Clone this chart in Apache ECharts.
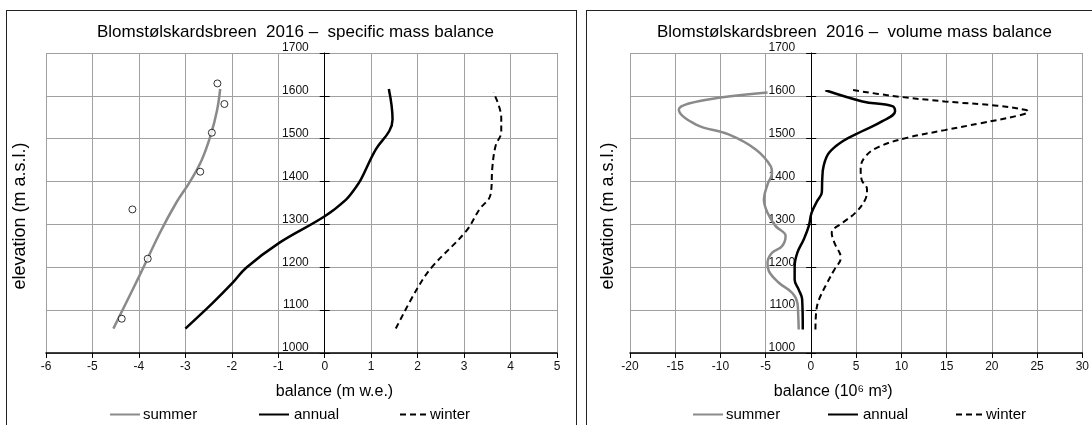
<!DOCTYPE html>
<html>
<head>
<meta charset="utf-8">
<script src="https://cdn.jsdelivr.net/npm/echarts@6/dist/echarts.min.js"></script>
<style>
  html, body { margin: 0; padding: 0; background: #fff; overflow: hidden; }
  .panel { position: absolute; top: 10px; height: 440px; border: 1px solid #222; }
  #chart { position: absolute; left: 0; top: 0; width: 1092px; height: 425px; }
</style>
</head>
<body>
<div class="panel" style="left:6px; width:569px;"></div>
<div class="panel" style="left:586px; width:600px;"></div>
<div id="chart"></div>
<script>
// specific mass balance (m w.e.) against elevation (m a.s.l.)
const specSummerVal = [-4.55, -3.99, -3.55, -3.2, -2.9, -2.65, -2.45, -2.32, -2.25];
const specSummerElev = [1057, 1180, 1280, 1350, 1400, 1450, 1510, 1565, 1616];
const specPointVal = [-4.37, -3.81, -4.14, -2.68, -2.43, -2.16, -2.31];
const specPointElev = [1080, 1220, 1335, 1423, 1514, 1581, 1629];
const specAnnualVal = [-3.0, -2.41, -1.98, -1.69, -0.98, 0, 0.46, 0.64, 0.78, 1.1, 1.39, 1.46, 1.38];
const specAnnualElev = [1057, 1117, 1164, 1199, 1257, 1319, 1358, 1382, 1405, 1475, 1518, 1545, 1616];
const specWinterVal = [1.53, 2.0, 2.32, 3.04, 3.33, 3.57, 3.61, 3.68, 3.8, 3.8, 3.63];
const specWinterElev = [1057, 1152, 1202, 1284, 1335, 1370, 1435, 1484, 1516, 1548, 1608];

// volume mass balance (10^6 m3)
const volSummerVal = [-1.35, -1.4, -1.5, -2.06, -3.55, -4.65, -4.8, -4.3, -3.2, -2.8, -3.9, -4.8, -5.2, -4.8, -4.3, -4.45, -6.1, -9.1, -12.7, -14.6, -13.5, -10, -4.8];
const volSummerElev = [1055, 1086, 1117, 1140, 1164, 1191, 1210, 1234, 1249, 1273, 1296, 1327, 1358, 1393, 1420, 1436, 1475, 1510, 1533, 1568, 1582, 1596, 1608];
const volAnnualVal = [-0.9, -0.97, -1.35, -1.8, -1.8, -1.5, -0.8, -0.24, 0.07, 0.7, 1.2, 1.25, 1.4, 2.0, 3.5, 5.7, 7.9, 9.3, 9.0, 5.7, 1.6];
const volAnnualElev = [1055, 1125, 1148, 1171, 1203, 1234, 1265, 1296, 1327, 1355, 1374, 1405, 1436, 1467, 1494, 1518, 1541, 1564, 1576, 1587, 1613];
const volWinterVal = [0.5, 0.6, 0.9, 1.8, 2.6, 3.3, 2.6, 2.3, 3.5, 4.9, 6.0, 6.2, 5.6, 5.5, 6.0, 7.5, 10.6, 14.8, 18.7, 22.9, 24.0, 23.8, 20.6, 14.8, 9.0, 4.2];
const volWinterElev = [1055, 1100, 1125, 1164, 1195, 1222, 1257, 1280, 1304, 1327, 1358, 1382, 1405, 1430, 1458, 1481, 1502, 1520, 1536, 1554, 1563, 1567, 1577, 1587, 1600, 1615];

const elevTicks = [1000, 1700, 100];
const specTicks = [-6, 5, 1];
const volTicks = [-20, 30, 5];

const FONT = 'Liberation Sans, Arial, sans-serif';
const GRID_COLOR = '#a0a0a0';
const grids = [
  { left: 46, top: 53, width: 511, height: 300 },
  { left: 630, top: 53, width: 453, height: 300 }
];

const pairs = (xs, ys) => xs.map((x, i) => [x, ys[i]]);

// shift of the elevation axis from the grid's left edge to balance = 0
const zeroOffset = (ticks, grid) => -(0 - ticks[0]) / (ticks[1] - ticks[0]) * grid.width;

const xAxisFor = (gridIndex, ticks, name, namePad) => ({
  gridIndex: gridIndex,
  type: 'value',
  min: ticks[0],
  max: ticks[1],
  interval: ticks[2],
  name: name,
  nameLocation: 'middle',
  nameGap: 31,
  nameTextStyle: { fontSize: 16, color: '#000', fontFamily: FONT, padding: namePad },
  axisLine: { show: true, onZero: false, lineStyle: { color: '#000', width: 1.5 } },
  axisTick: { show: true, length: 5, lineStyle: { color: '#000' } },
  axisLabel: { fontSize: 12, color: '#111', margin: 8, fontFamily: FONT },
  splitLine: { show: true, lineStyle: { color: GRID_COLOR, width: 1 } }
});

const yAxisFor = (gridIndex, offset) => ({
  gridIndex: gridIndex,
  type: 'value',
  position: 'left',
  offset: offset,
  min: elevTicks[0],
  max: elevTicks[1],
  interval: elevTicks[2],
  axisLine: { show: true, onZero: false, lineStyle: { color: '#000', width: 1 } },
  axisTick: { show: true, length: 5, lineStyle: { color: '#000' } },
  axisLabel: { fontSize: 12, color: '#111', margin: 16, verticalAlign: 'bottom', lineHeight: 10,
    fontFamily: FONT, formatter: v => String(v) },
  splitLine: { show: true, lineStyle: { color: GRID_COLOR, width: 1 } }
});

// second y axis in each grid only draws the inner half of the crossing ticks
const yTickAxisFor = (gridIndex, offset) => ({
  gridIndex: gridIndex,
  type: 'value',
  position: 'left',
  offset: offset,
  min: elevTicks[0],
  max: elevTicks[1],
  interval: elevTicks[2],
  axisLine: { show: false, onZero: false },
  axisTick: { show: true, inside: true, length: 5, lineStyle: { color: '#000' } },
  axisLabel: { show: false },
  splitLine: { show: false }
});

const lineSeries = (name, xi, yi, data, style) => ({
  name: name,
  type: 'line',
  xAxisIndex: xi,
  yAxisIndex: yi,
  data: data,
  smooth: 0.4,
  symbol: 'none',
  itemStyle: { color: style.color },
  lineStyle: style,
  z: 3
});

const summerStyle = { color: '#8a8a8a', width: 2.5 };
const annualStyle = { color: '#000', width: 2.5 };
const winterStyle = { color: '#000', width: 2, type: [6, 4] };

const legendAt = (name, left, textGap) => ({
  data: [name],
  left: left,
  top: 407,
  padding: 0,
  itemWidth: 30,
  itemHeight: 14,
  itemGap: 0,
  itemStyle: { color: 'transparent', borderColor: 'transparent', borderWidth: 0, opacity: 0 },
  textStyle: { fontSize: 15, color: '#000', fontFamily: FONT, padding: [0, 0, 0, textGap] }
});

const chart = echarts.init(document.getElementById('chart'));

const specOffset = zeroOffset(specTicks, grids[0]);
const volOffset = zeroOffset(volTicks, grids[1]);

const yName = (x) => ({
  type: 'text', x: x, y: 216, rotation: Math.PI / 2,
  style: { text: 'elevation (m a.s.l.)', font: '18px ' + FONT, fill: '#000', textAlign: 'center', textVerticalAlign: 'middle' }
});

const option = {
  animation: false,
  textStyle: { fontFamily: FONT },
  title: [
    { text: 'Blomstølskardsbreen  2016 –  specific mass balance', left: 97, top: 24, padding: 0,
      textStyle: { fontSize: 17, fontWeight: 'normal', color: '#000', fontFamily: FONT } },
    { text: 'Blomstølskardsbreen  2016 –  volume mass balance', left: 657, top: 24, padding: 0,
      textStyle: { fontSize: 17, fontWeight: 'normal', color: '#000', fontFamily: FONT } }
  ],
  legend: [
    legendAt('summer', 109, -2), legendAt('annual', 258, 0), legendAt('winter', 399, -5),
    legendAt('summer', 692, -2), legendAt('annual', 827, 0), legendAt('winter', 955, -5)
  ],
  grid: grids,
  xAxis: [
    xAxisFor(0, specTicks, 'balance (m w.e.)', [0, 0, 0, 66]),
    xAxisFor(1, volTicks, 'balance (10⁶ m³)', [0, 46, 0, 0])
  ],
  yAxis: [
    yAxisFor(0, specOffset), yTickAxisFor(0, specOffset),
    yAxisFor(1, volOffset), yTickAxisFor(1, volOffset)
  ],
  graphic: [yName(20), yName(608)],
  series: [
    lineSeries('summer', 0, 0, pairs(specSummerVal, specSummerElev), summerStyle),
    {
      name: 'summer points',
      type: 'scatter',
      xAxisIndex: 0,
      yAxisIndex: 0,
      data: pairs(specPointVal, specPointElev),
      symbol: 'circle',
      symbolSize: 7,
      itemStyle: { color: '#fff', borderColor: '#000', borderWidth: 1 },
      z: 4
    },
    lineSeries('annual', 0, 0, pairs(specAnnualVal, specAnnualElev), annualStyle),
    lineSeries('winter', 0, 0, pairs(specWinterVal, specWinterElev), winterStyle),
    lineSeries('summer', 1, 2, pairs(volSummerVal, volSummerElev), summerStyle),
    lineSeries('annual', 1, 2, pairs(volAnnualVal, volAnnualElev), annualStyle),
    lineSeries('winter', 1, 2, pairs(volWinterVal, volWinterElev), winterStyle)
  ]
};

chart.setOption(option);
</script>
</body>
</html>
